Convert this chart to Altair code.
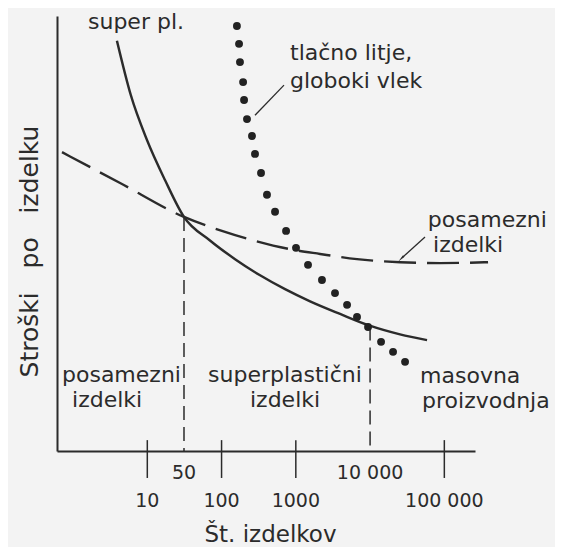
import altair as alt
import pandas as pd

# --- data (x = number of pieces, log scale; y = cost, arbitrary 0..100) ---
super_x = [3.9, 6.0, 9.9, 17.3, 31.2, 69.8, 152, 330, 716, 1556, 3945, 9910, 25290, 58500]
super_y = [94.3, 81.8, 71.5, 62.3, 53.8, 48.4, 44.1, 40.4, 37.2, 34.4, 31.5, 28.8, 26.8, 25.5]

single_x = [0.71, 4.3, 31.2, 101, 257, 836, 2120, 6670, 25400, 87500, 388000]
single_y = [68.7, 61.6, 53.8, 50.6, 48.5, 46.4, 45.3, 44.1, 43.4, 43.2, 43.4]

mass_x = [161, 172, 177, 195, 201, 220, 257, 282, 340, 409, 525, 739, 1006, 1460,
          2250, 3370, 4900, 6670, 9390, 14060, 20390, 29590]
mass_y = [97.7, 93.6, 89.4, 84.8, 80.7, 76.3, 72.4, 68.3, 63.9, 58.9, 55.0, 50.6, 46.7, 42.8,
          39.3, 36.3, 33.6, 30.8, 28.5, 25.1, 22.8, 20.5]

tick_values = [10, 100, 1000, 100000]
tick_labels = ["10", "100", "1000", "100 000"]

divider_x = [31.2, 10000]
divider_top = [53.8, 28.6]
divider_labels = ["50", "10 000"]

note_text = ["super pl.", "tlačno litje,", "globoki vlek", "posamezni", "izdelki",
             "posamezni", "izdelki", "superplastični", "izdelki", "masovna", "proizvodnja"]
note_x = [1.59, 836, 836, 59980, 70400, 0.71, 0.97, 65.7, 241.5, 47100, 50150]
note_y = [96.9, 89.9, 83.4, 51.5, 45.7, 15.9, 10.1, 15.9, 10.1, 15.6, 9.9]

leader_x = [282, 54950]
leader_x2 = [693, 26900]
leader_y = [77.2, 49.2]
leader_y2 = [84.1, 44.4]

INK = "#2b2b2b"
FONT = "DejaVu Sans"

xs = alt.Scale(type="log", domain=[0.608, 258800], nice=False)
ys = alt.Scale(domain=[0, 100], nice=False, zero=False)

x_axis = alt.Axis(title="Št. izdelkov", domain=True, domainColor=INK, domainWidth=2,
                  ticks=False, labels=False, grid=False, titleFont=FONT, titleFontSize=23,
                  titleFontWeight="normal", titleColor=INK, titleX=213, titleY=90,
                  titleAlign="center", titleBaseline="alphabetic")
y_axis = alt.Axis(title="Stroški\u00a0\u00a0\u00a0po\u00a0\u00a0\u00a0izdelku", domain=True,
                  domainColor=INK, domainWidth=2, ticks=False, labels=False, grid=False,
                  titleFont=FONT, titleFontSize=25, titleFontWeight="normal", titleColor=INK,
                  titleX=-28, titleY=235, titleAngle=270, titleAlign="center",
                  titleBaseline="middle")


def X(f="x"):
    return alt.X(f"{f}:Q", scale=xs, axis=x_axis)


def Y(f="y"):
    return alt.Y(f"{f}:Q", scale=ys, axis=y_axis)


super_df = pd.DataFrame({"x": super_x, "y": super_y})
single_df = pd.DataFrame({"x": single_x, "y": single_y})
mass_df = pd.DataFrame({"x": mass_x, "y": mass_y})
tick_df = pd.DataFrame({"x": tick_values, "label": tick_labels, "y": [2.5] * 4,
                        "y2": [-6.2] * 4, "ly": [-11.6] * 4})
div_df = pd.DataFrame({"x": divider_x, "top": divider_top, "label": divider_labels,
                       "y": [0, 0], "ly": [-5.0, -5.0]})
note_df = pd.DataFrame({"x": note_x, "y": note_y, "text": note_text})
lead_df = pd.DataFrame({"x": leader_x, "x2": leader_x2, "y": leader_y, "y2": leader_y2})
arrow_df = pd.DataFrame({"x": [leader_x2[1]], "y": [leader_y2[1]]})

super_line = alt.Chart(super_df).mark_line(color=INK, strokeWidth=2.4, interpolate="monotone").encode(
    x=X(), y=Y())
single_line = alt.Chart(single_df).mark_line(color=INK, strokeWidth=2.4, interpolate="monotone",
                                             strokeDash=[32, 11]).encode(x=X(), y=Y())
mass_dots = alt.Chart(mass_df).mark_circle(color="#222222", size=62, opacity=1).encode(x=X(), y=Y())

ticks = alt.Chart(tick_df).mark_rule(color=INK, strokeWidth=1.5).encode(
    x=X(), y=Y(), y2="y2:Q")
tick_text = alt.Chart(tick_df).mark_text(font=FONT, fontSize=19, color=INK, baseline="middle",
                                         align="center").encode(x=X(), y=Y("ly"), text="label:N")
dividers = alt.Chart(div_df).mark_rule(color=INK, strokeWidth=1.5, strokeDash=[14, 7]).encode(
    x=X(), y=Y("top"), y2="y:Q")
div_text = alt.Chart(div_df).mark_text(font=FONT, fontSize=19, color=INK, baseline="middle",
                                       align="center").encode(x=X(), y=Y("ly"), text="label:N")
notes = alt.Chart(note_df).mark_text(font=FONT, fontSize=22, color=INK, baseline="alphabetic",
                                     align="left").encode(x=X(), y=Y(), text="text:N")
leaders = alt.Chart(lead_df).mark_rule(color=INK, strokeWidth=1.3).encode(
    x=X(), x2="x2:Q", y=Y(), y2="y2:Q")
arrow = alt.Chart(arrow_df).mark_point(shape="wedge", filled=True, color=INK, size=80,
                                       angle=225, opacity=1).encode(x=X(), y=Y())

chart = alt.layer(
    dividers, ticks, single_line, super_line, mass_dots, tick_text, div_text, notes, leaders, arrow
).properties(
    width=418, height=435,
    autosize=alt.AutoSizeParams(type="none"),
    padding={"left": 49, "top": 8, "right": 80, "bottom": 96},
    background="#f3f3f3",
).configure_view(stroke=None)

chart.save("out.html", embed_options={"renderer": "svg", "actions": False})
